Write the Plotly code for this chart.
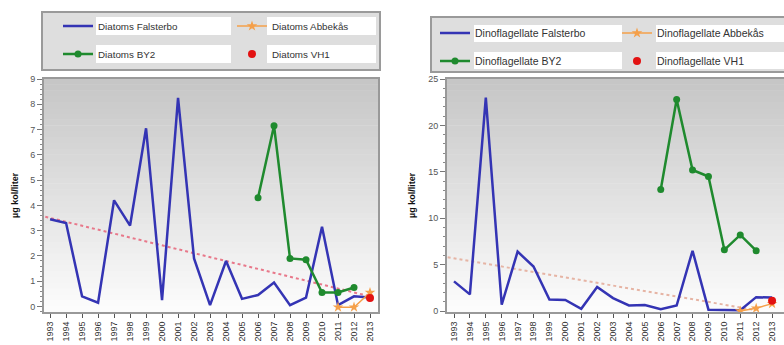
import plotly.graph_objects as go

W, H = 784, 345

# ---------------- data ----------------
years = list(range(1993, 2014))
by2_years = [2006, 2007, 2008, 2009, 2010, 2011, 2012]
abbekas_years = [2011, 2012, 2013]
vh1_years = [2013]

diatoms_falsterbo = [3.45, 3.3, 0.4, 0.15, 4.2, 3.2, 7.05, 0.25, 8.25, 1.9, 0.05,
                     1.8, 0.3, 0.45, 0.95, 0.05, 0.35, 3.15, 0.05, 0.4, 0.35]
diatoms_by2 = [4.3, 7.15, 1.9, 1.85, 0.55, 0.55, 0.75]
diatoms_abbekas = [-0.03, -0.03, 0.55]
diatoms_vh1 = [0.33]
diatoms_trend_x = [1992.7, 2013]
diatoms_trend_y = [3.55, 0.4]

dino_falsterbo = [3.2, 1.8, 23.0, 0.7, 6.4, 4.8, 1.25, 1.2, 0.25, 2.6, 1.4,
                  0.6, 0.65, 0.2, 0.6, 6.5, 0.15, 0.1, 0.1, 1.5, 1.45]
dino_by2 = [13.1, 22.8, 15.2, 14.5, 6.6, 8.2, 6.5]
dino_abbekas = [0.0, 0.3, 0.8]
dino_vh1 = [1.1]
dino_trend_x = [1992.6, 2012]
dino_trend_y = [5.8, 0.1]

year_labels = [str(y) for y in years]
y_title = "µg kol/liter"

# ---------------- styles ----------------
BLUE = "#3434b4"
GREEN = "#1f8a2e"
ORANGE = "#f5a04a"
RED = "#e31212"
FONT = "Liberation Sans, Arial, sans-serif"


def px(x):
    return x / W


def py(y):
    return 1 - y / H


fig = go.Figure()


def add_panel(xa, ya, falsterbo, by2, abbekas, vh1, tx, ty, tcolor, names, legs):
    fig.add_trace(go.Scatter(x=tx, y=ty, mode="lines", xaxis=xa, yaxis=ya,
                             line=dict(color=tcolor, width=2, dash="dot"),
                             showlegend=False, hoverinfo="skip"))
    fig.add_trace(go.Scatter(x=years, y=falsterbo, mode="lines", name=names[0],
                             xaxis=xa, yaxis=ya, legend=legs[0],
                             line=dict(color=BLUE, width=2.5)))
    fig.add_trace(go.Scatter(x=by2_years, y=by2, mode="lines+markers", name=names[2],
                             xaxis=xa, yaxis=ya, legend=legs[2],
                             line=dict(color=GREEN, width=2.5),
                             marker=dict(color=GREEN, size=7, symbol="circle")))
    fig.add_trace(go.Scatter(x=abbekas_years, y=abbekas, mode="lines+markers", name=names[1],
                             xaxis=xa, yaxis=ya, legend=legs[1],
                             line=dict(color=ORANGE, width=1.5),
                             marker=dict(color=ORANGE, size=8, symbol="star")))
    fig.add_trace(go.Scatter(x=vh1_years, y=vh1, mode="markers", name=names[3],
                             xaxis=xa, yaxis=ya, legend=legs[3],
                             marker=dict(color=RED, size=8, symbol="circle")))


add_panel("x", "y", diatoms_falsterbo, diatoms_by2, diatoms_abbekas, diatoms_vh1,
          diatoms_trend_x, diatoms_trend_y, "#e8788a",
          ["Diatoms Falsterbo", "Diatoms Abbekås", "Diatoms BY2", "Diatoms VH1"],
          ["legend", "legend2", "legend3", "legend4"])
add_panel("x2", "y2", dino_falsterbo, dino_by2, dino_abbekas, dino_vh1,
          dino_trend_x, dino_trend_y, "#e6b4a4",
          ["Dinoflagellate Falsterbo", "Dinoflagellate Abbekås", "Dinoflagellate BY2",
           "Dinoflagellate VH1"],
          ["legend5", "legend6", "legend7", "legend8"])

# ---------------- axes ----------------
ydom = [py(312), py(79)]
xcommon = dict(tickmode="array", tickvals=years, ticktext=year_labels, tickangle=-90,
               ticks="outside", ticklen=4, tickcolor="#555", tickwidth=1,
               tickfont=dict(size=9, color="#333", family=FONT),
               showgrid=False, zeroline=False, showline=True, linecolor="#999",
               linewidth=2, mirror=True)
ycommon = dict(ticks="outside", ticklen=5, tickcolor="#777", tickwidth=1,
               tickfont=dict(size=9, color="#555", family=FONT),
               showgrid=False, zeroline=False, showline=True, linecolor="#999",
               linewidth=2, mirror=True, domain=ydom)

fig.update_layout(
    xaxis=dict(domain=[px(44), px(378)], range=[1992.62, 2013.5], anchor="y", **xcommon),
    yaxis=dict(range=[-0.22, 9.0], dtick=1, anchor="x",
               minor=dict(dtick=0.2, ticks="outside", ticklen=2.5, tickcolor="#888"),
               **ycommon),
    xaxis2=dict(domain=[px(447), 1.0], range=[1992.56, 2013.75], anchor="y2", **xcommon),
    yaxis2=dict(range=[-0.1, 25.0], dtick=5, anchor="x2",
                minor=dict(dtick=1, ticks="outside", ticklen=2.5, tickcolor="#888"),
                **ycommon),
)

# ---------------- gradient plot backgrounds ----------------
shapes = []
N = 40
top = (198, 198, 198)
bot = (252, 252, 252)
for xr, yr in [("x domain", "y domain"), ("x2 domain", "y2 domain")]:
    for i in range(N):
        t = i / (N - 1)
        c = tuple(int(round(bot[k] + (top[k] - bot[k]) * t)) for k in range(3))
        shapes.append(dict(type="rect", xref=xr, yref=yr, x0=0, x1=1,
                           y0=i / N, y1=(i + 1) / N + 0.002, layer="below",
                           line=dict(width=0), fillcolor="rgb(%d,%d,%d)" % c))

# ---------------- legend boxes ----------------
def box(x0, y0, x1, y1, fill, line_w=0, line_c="#999"):
    shapes.append(dict(type="rect", xref="paper", yref="paper",
                       x0=px(x0), x1=px(x1), y0=py(y1), y1=py(y0), layer="above",
                       fillcolor=fill, line=dict(width=line_w, color=line_c)))

box(42, 12, 380, 70, "#dedede", 2, "#9a9a9a")
box(96, 17, 231, 35, "white")
box(96, 45, 231, 63, "white")
box(267, 17, 376, 35, "white")
box(267, 45, 376, 63, "white")

box(431, 17, 786, 72, "#dedede", 2, "#9a9a9a")
box(474, 25, 622, 42, "white")
box(474, 52, 622, 69, "white")
box(656, 25, 786, 42, "white")
box(656, 52, 786, 69, "white")

fig.update_layout(shapes=shapes)

# ---------------- legends ----------------
legend_pos = {
    "legend": (58, 26, 9.8), "legend2": (232, 26, 9.8),
    "legend3": (58, 54, 9.8), "legend4": (232, 54, 9.8),
    "legend5": (435, 33, 10.5), "legend6": (617, 33, 10.5),
    "legend7": (435, 61, 10.5), "legend8": (617, 61, 10.5),
}
for name, (lx, ly, fs) in legend_pos.items():
    fig.update_layout({name: dict(x=px(lx), y=py(ly), xanchor="left", yanchor="middle",
                                  orientation="h", bgcolor="rgba(0,0,0,0)", borderwidth=0,
                                  font=dict(size=fs, color="#333", family=FONT),
                                  itemwidth=30)})

# ---------------- y titles ----------------
for xp in [15, 412]:
    fig.add_annotation(x=px(xp), y=py(195), xref="paper", yref="paper", text=y_title,
                       textangle=-90, showarrow=False, xanchor="center", yanchor="middle",
                       font=dict(size=9, color="#111", family=FONT, weight="bold"))

fig.update_layout(width=W, height=H, margin=dict(l=0, r=0, t=0, b=0, autoexpand=False),
                  paper_bgcolor="white", plot_bgcolor="rgba(0,0,0,0)",
                  font=dict(family=FONT), showlegend=True)

fig.write_html("out.html", config={"displayModeBar": False},
               post_script="document.body.style.margin='0';")
